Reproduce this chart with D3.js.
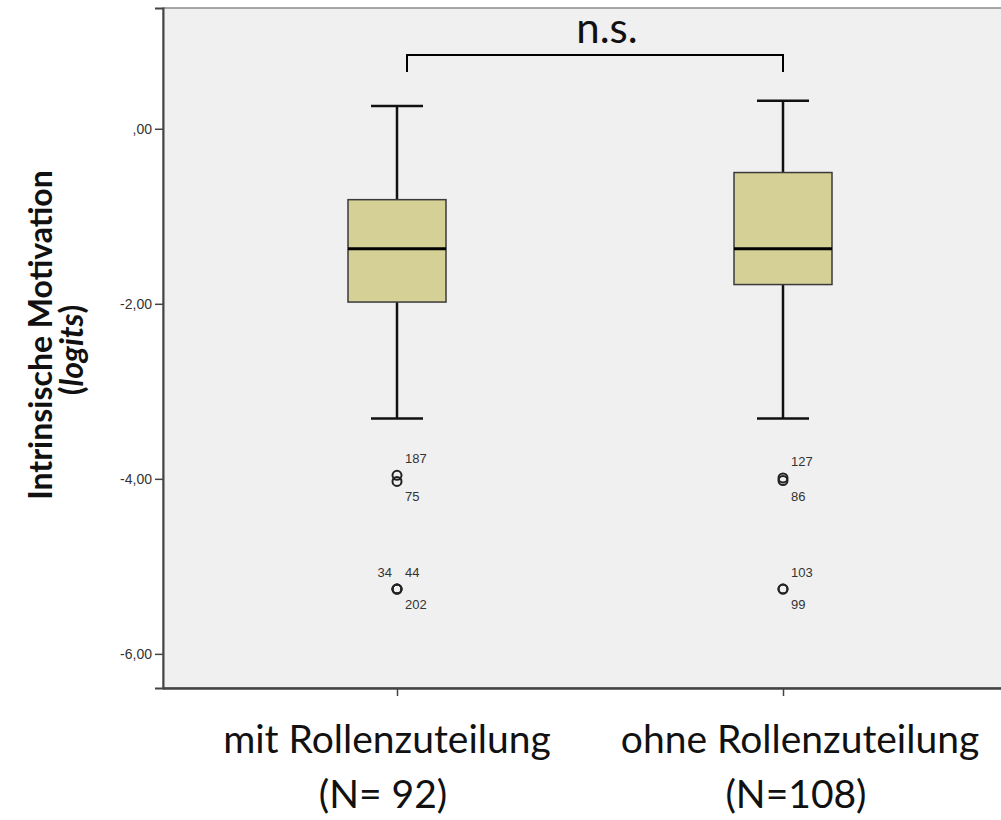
<!DOCTYPE html>
<html>
<head>
<meta charset="utf-8">
<script src="https://cdn.jsdelivr.net/npm/d3@7"></script>
<style>
  html, body { margin: 0; padding: 0; background: #ffffff; }
  svg { display: block; }
</style>
</head>
<body>
<svg id="chart" width="1001" height="820"></svg>
<script>
// Groups and their sample sizes
const groups = ["mit Rollenzuteilung", "ohne Rollenzuteilung"];
const groupN = ["(N= 92)", "(N=108)"];

// Five-number summaries per group (logits)
const whiskerHigh = [0.26, 0.32];
const q3 = [-0.81, -0.50];
const median = [-1.37, -1.37];
const q1 = [-1.98, -1.78];
const whiskerLow = [-3.31, -3.31];

// Outliers: group index, value, case id, label placement
const outlierGroup = [0, 0, 0, 0, 0, 1, 1, 1, 1];
const outlierValue = [-3.96, -4.03, -5.26, -5.26, -5.26, -3.99, -4.02, -5.26, -5.26];
const outlierId = ["187", "75", "34", "44", "202", "127", "86", "103", "99"];
const outlierPos = ["ur", "dr", "ul", "ur", "dr", "ur", "dr", "ur", "dr"];

// Axis ticks
const yTicks = [0, -2, -4, -6];
const yDomain = [-6.39, 1.38];

const sigLabel = "n.s.";

const svg = d3.select("#chart");
const plot = { left: 163, top: 8, right: 1004, bottom: 688 };

const y = d3.scaleLinear().domain(yDomain).range([plot.bottom, plot.top]);
const x = d3.scalePoint().domain(d3.range(groups.length)).range([plot.left + 234, plot.left + 620]);

const de = d3.formatLocale({ decimal: ",", thousands: ".", grouping: [3], currency: ["", " €"], minus: "-" });
const fmt = v => de.format(".2f")(v).replace(/^0,/, ",");

// Plot background
svg.append("rect")
  .attr("x", plot.left).attr("y", plot.top)
  .attr("width", plot.right - plot.left).attr("height", plot.bottom - plot.top)
  .attr("fill", "#f0f0f0")
  .attr("stroke", "#8a8a8a").attr("stroke-width", 1.5);

// Y axis
const yAxis = svg.append("g")
  .attr("transform", `translate(${plot.left},0)`)
  .call(d3.axisLeft(y).tickValues(yTicks).tickFormat(fmt).tickSize(8).tickPadding(3));
yAxis.select(".domain").attr("stroke", "#444").attr("stroke-width", 2);
yAxis.selectAll(".tick line").attr("stroke", "#444").attr("stroke-width", 1.5);
yAxis.selectAll(".tick text")
  .attr("font-family", "Liberation Sans, Arial, sans-serif")
  .attr("font-size", 14).attr("fill", "#333");

// X axis (ticks only, labels drawn separately)
const xAxis = svg.append("g")
  .attr("transform", `translate(0,${plot.bottom})`)
  .call(d3.axisBottom(x).tickSize(8).tickFormat(""));
xAxis.select(".domain").attr("d", `M${plot.left},0.5H${plot.right}`).attr("stroke", "#444").attr("stroke-width", 2.5);
xAxis.selectAll(".tick line").attr("stroke", "#444").attr("stroke-width", 1.5);

// Category labels
const labelFont = "Lato, 'Open Sans', sans-serif";
groups.forEach((g, i) => {
  const cx = x(i) - 10 + i * 27;
  svg.append("text").attr("x", cx).attr("y", 753)
    .attr("text-anchor", "middle").attr("font-family", labelFont)
    .attr("font-size", 39).attr("fill", "#111").text(g);
  svg.append("text").attr("x", cx - 4).attr("y", 808)
    .attr("text-anchor", "middle").attr("font-family", labelFont)
    .attr("font-size", 39).attr("fill", "#111").text(groupN[i]);
});

// Y axis title
const title = svg.append("text")
  .attr("font-family", labelFont).attr("font-weight", "bold")
  .attr("font-size", 32).attr("fill", "#111")
  .attr("text-anchor", "middle")
  .attr("transform", "rotate(-90)");
title.append("tspan").attr("x", -335).attr("y", 52).text("Intrinsische Motivation");
const t2 = title.append("tspan").attr("x", -350).attr("y", 83);
t2.append("tspan").text("(");
t2.append("tspan").attr("font-style", "italic").text("logits");
t2.append("tspan").text(")");

// Boxes
const boxW = 98, capW = 52;
const idx = d3.range(groups.length);
const gBox = svg.append("g");

idx.forEach(i => {
  const cx = x(i);
  // Whiskers
  gBox.append("line").attr("x1", cx).attr("x2", cx)
    .attr("y1", y(whiskerHigh[i])).attr("y2", y(q3[i]))
    .attr("stroke", "#111").attr("stroke-width", 2.5);
  gBox.append("line").attr("x1", cx).attr("x2", cx)
    .attr("y1", y(q1[i])).attr("y2", y(whiskerLow[i]))
    .attr("stroke", "#111").attr("stroke-width", 2.5);
  [whiskerHigh[i], whiskerLow[i]].forEach(v => {
    gBox.append("line").attr("x1", cx - capW / 2).attr("x2", cx + capW / 2)
      .attr("y1", y(v)).attr("y2", y(v))
      .attr("stroke", "#111").attr("stroke-width", 2.5);
  });
  // Interquartile box and median
  gBox.append("rect")
    .attr("x", cx - boxW / 2).attr("y", y(q3[i]))
    .attr("width", boxW).attr("height", y(q1[i]) - y(q3[i]))
    .attr("fill", "#d4d096").attr("stroke", "#3a3a3a").attr("stroke-width", 1.5);
  gBox.append("line").attr("x1", cx - boxW / 2).attr("x2", cx + boxW / 2)
    .attr("y1", y(median[i])).attr("y2", y(median[i]))
    .attr("stroke", "#000").attr("stroke-width", 3);
});

// Outliers
const outlierFont = "Liberation Sans, Arial, sans-serif";
outlierValue.forEach((v, k) => {
  const cx = x(outlierGroup[k]);
  const cy = y(v);
  gBox.append("circle").attr("cx", cx).attr("cy", cy).attr("r", 4.5)
    .attr("fill", "none").attr("stroke", "#222").attr("stroke-width", 2);
  const pos = outlierPos[k];
  const dx = pos === "ul" ? -5 : 8;
  const dy = pos[0] === "u" ? -12 : 20;
  gBox.append("text")
    .attr("x", cx + dx).attr("y", cy + dy)
    .attr("text-anchor", pos === "ul" ? "end" : "start")
    .attr("font-family", outlierFont).attr("font-size", 13).attr("fill", "#333")
    .text(outlierId[k]);
});

// Significance bracket
const bx1 = x(0) + 10, bx2 = x(1), by = 55, bDrop = 17;
svg.append("path")
  .attr("d", `M${bx1},${by + bDrop}V${by}H${bx2}V${by + bDrop}`)
  .attr("fill", "none").attr("stroke", "#000").attr("stroke-width", 2);
svg.append("text").attr("x", (bx1 + bx2) / 2 + 12).attr("y", 43)
  .attr("text-anchor", "middle").attr("font-family", labelFont)
  .attr("font-size", 42).attr("fill", "#111").text(sigLabel);
</script>
</body>
</html>
